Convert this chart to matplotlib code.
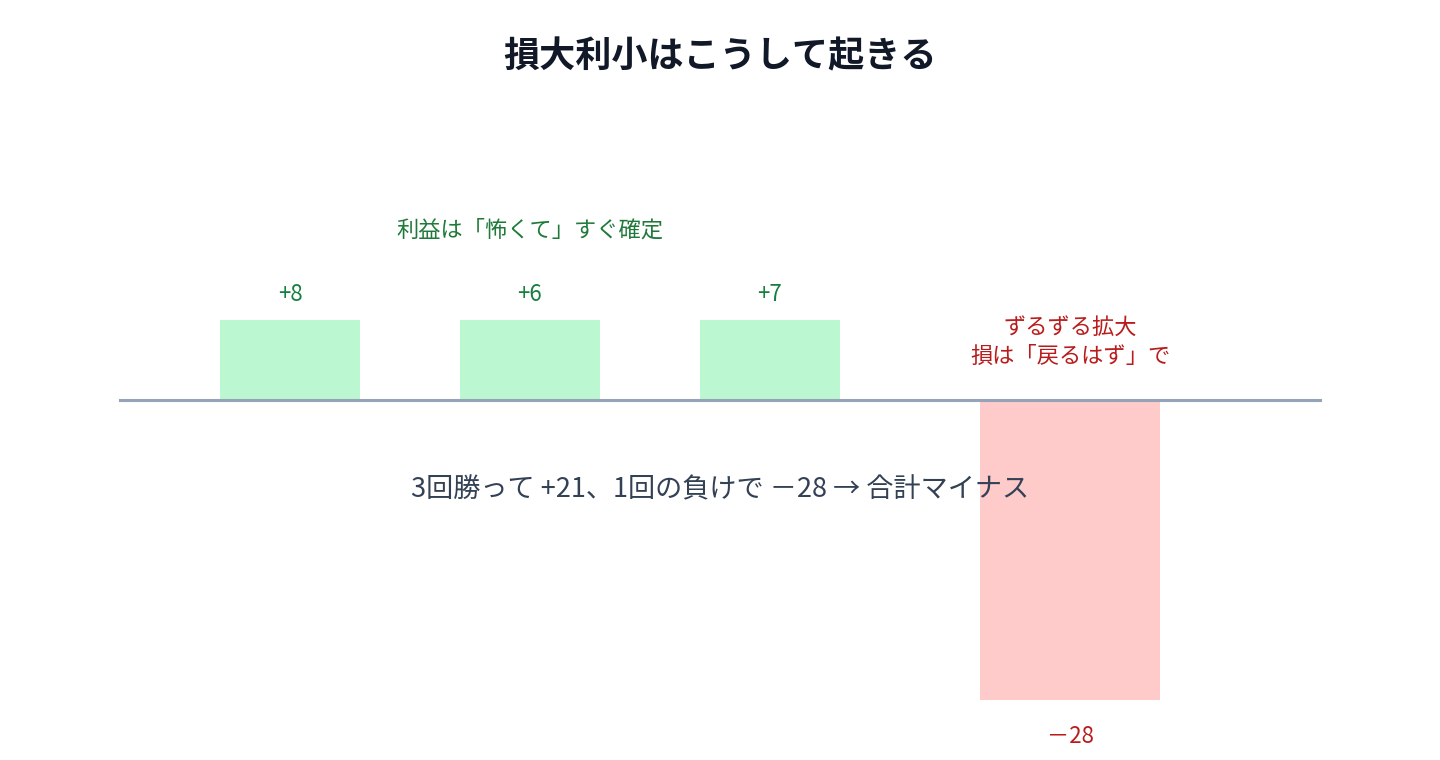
import matplotlib
matplotlib.use("Agg")
import matplotlib.pyplot as plt

plt.rcParams['font.family'] = ['Noto Sans CJK JP', 'DejaVu Sans']

labels = ["+8", "+6", "+7", "－28"]
bar_heights = [8, 8, 8, -30]
x_centers = [290, 530, 770, 1070]
widths = [140, 140, 140, 180]
colors = ["#bbf7d0", "#bbf7d0", "#bbf7d0", "#fecaca"]
label_colors = ["#15803d", "#15803d", "#15803d", "#b91c1c"]

fig = plt.figure(figsize=(14.4, 7.6), dpi=100)
ax = fig.add_axes([0, 0, 1, 1])
ax.set_xlim(0, 1440)
ax.set_ylim(-36, 40)  # 10 px per unit, zero at pixel 400
ax.axis('off')

ax.bar(x_centers, bar_heights, width=widths, color=colors, zorder=1)
ax.plot([120, 1320], [0, 0], color="#94a3b8", lw=2.2, zorder=2)

for x, h, lab, c in zip(x_centers, bar_heights, labels, label_colors):
    y = h + 1.4 if h > 0 else h - 4.8
    ax.text(x, y, lab, ha='center', va='bottom', fontsize=16, color=c)

ax.text(720, 40 - 5.7, "損大利小はこうして起きる", ha='center', va='center',
        fontsize=26, fontweight='bold', color="#111827")
ax.text(530, 40 - 23.0, "利益は「怖くて」すぐ確定", ha='center', va='center',
        fontsize=16, color="#1f7a3a")
ax.text(1070, 40 - 34.2, "ずるずる拡大\n損は「戻るはず」で", ha='center', va='center',
        fontsize=16, color="#b91c1c", linespacing=1.3)
ax.text(720, 40 - 49.0, "3回勝って +21、1回の負けで －28 → 合計マイナス", ha='center',
        va='center', fontsize=19.5, color="#334155", zorder=3)

fig.savefig("out.png", dpi=100, facecolor="white")
